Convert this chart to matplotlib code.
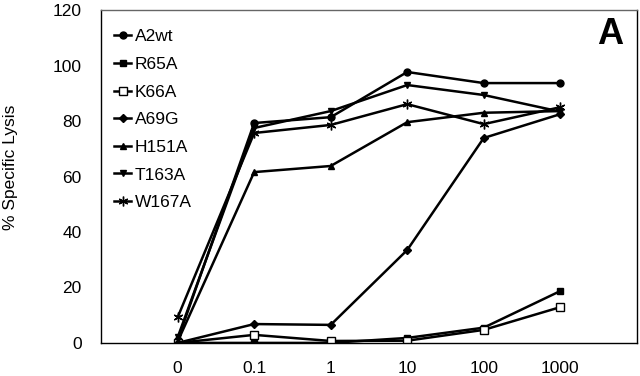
import matplotlib
matplotlib.use("Agg")
import matplotlib.pyplot as plt

plt.rcParams['font.family'] = ['Liberation Sans', 'DejaVu Sans']

categories = ["0", "0.1", "1", "10", "100", "1000"]
A2wt = [1, 79.3, 81.4, 97.7, 93.7, 93.7]
R65A = [0, 0, 0, 1.8, 5.5, 18.7]
K66A = [0, 2.9, 0.7, 0.8, 4.7, 12.9]
A69G = [0, 6.8, 6.5, 33.5, 73.9, 82.5]
H151A = [0.5, 61.6, 63.8, 79.6, 83.0, 83.6]
T163A = [2, 77.5, 83.6, 93.0, 89.4, 83.4]
W167A = [9.2, 75.7, 78.6, 86.1, 78.9, 85.0]

series = [
    ("A2wt", A2wt, dict(marker='o', ms=5, mfc='black')),
    ("R65A", R65A, dict(marker='s', ms=4.5, mfc='black')),
    ("K66A", K66A, dict(marker='s', ms=6, mfc='white', mew=1.0)),
    ("A69G", A69G, dict(marker='D', ms=4, mfc='black')),
    ("H151A", H151A, dict(marker='^', ms=5, mfc='black')),
    ("T163A", T163A, dict(marker='v', ms=5, mfc='black')),
    ("W167A", W167A, dict(marker=(6, 2, 0), ms=7, mew=1.0)),
]

fig = plt.figure(figsize=(6.4, 3.76), dpi=100)
ax = fig.add_axes([0.158, 0.088, 0.837, 0.885])
x = list(range(len(categories)))
for name, vals, st in series:
    ax.plot(x, vals, color='black', lw=1.8, mec='black', label=name, **st)

ax.set_xlim(-1, 6)
ax.set_ylim(0, 120)
ax.set_yticks([0, 20, 40, 60, 80, 100, 120])
ax.set_xticks(x)
ax.set_xticklabels(categories)
ax.tick_params(axis='y', length=0, pad=14, labelsize=12.5)
ax.tick_params(axis='x', length=0, pad=13, labelsize=12.5)
for s in ['left', 'bottom', 'right']:
    ax.spines[s].set_color('black')
    ax.spines[s].set_linewidth(1.0)
ax.spines['top'].set_color('#666666')
ax.spines['top'].set_linewidth(1.0)

ax.set_ylabel("% Specific Lysis", fontsize=12.5)
ax.yaxis.set_label_coords(-0.155, 0.528)

leg = ax.legend(loc='upper left', bbox_to_anchor=(0.024, 0.943), frameon=False,
                fontsize=12.5, handlelength=1.0, handletextpad=0.2,
                labelspacing=0.72, borderpad=0, borderaxespad=0)

ax.text(0.975, 0.978, "A", transform=ax.transAxes, fontsize=26, fontweight='bold',
        ha='right', va='top')

fig.savefig("out.png", dpi=100)
